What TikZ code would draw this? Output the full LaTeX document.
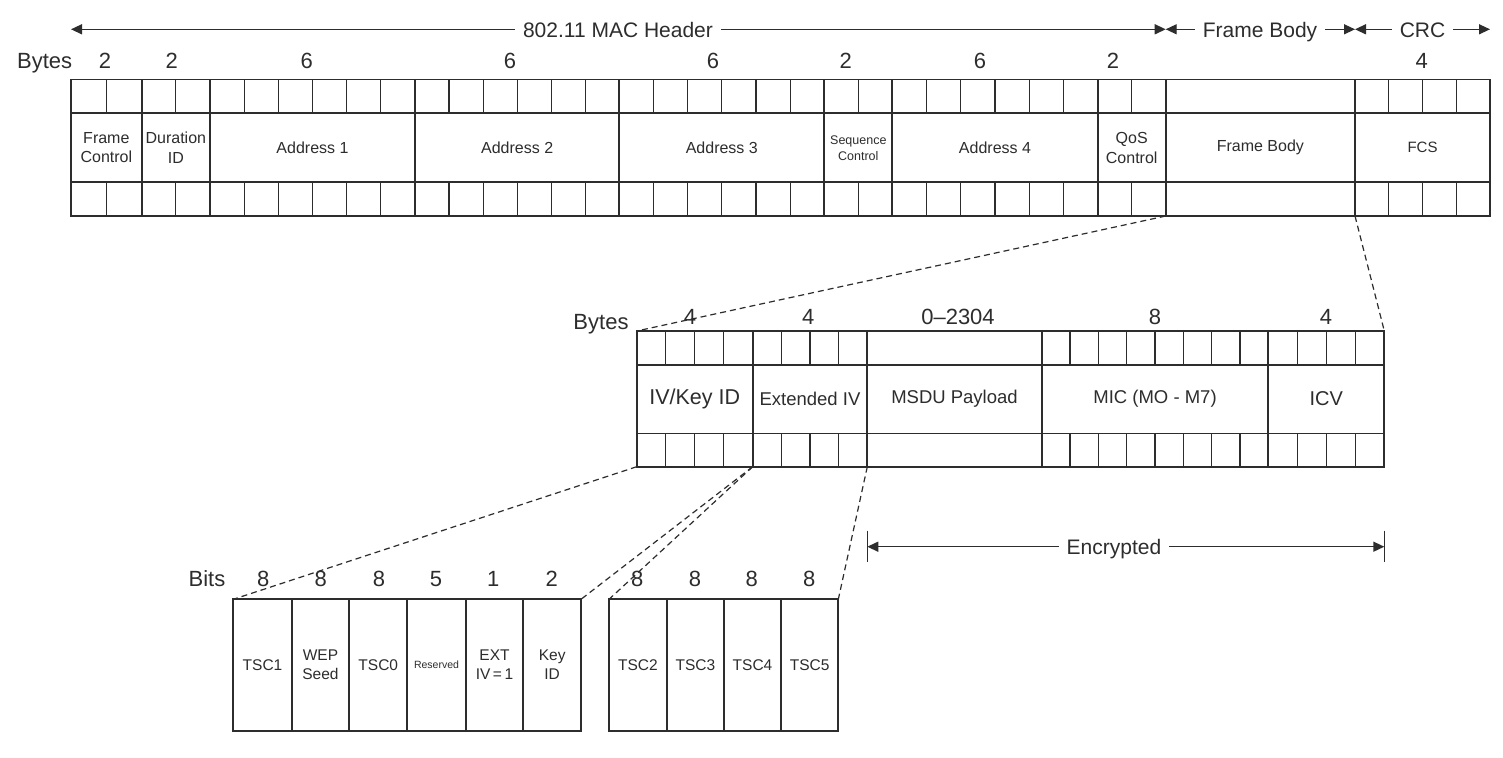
\documentclass[tikz,border=0pt]{standalone}
\usepackage{fontspec}
\setmainfont{Liberation Sans}
\usetikzlibrary{arrows.meta}
\definecolor{ink}{RGB}{45,45,45}
\def\yA{0}\def\yB{0}\def\yC{0}\def\yD{0}
\newcommand{\bfld}[7]{%
  \node[fld, minimum width={(#3-#2)*1pt}, minimum height={(\yD-\yA)*1pt}, font=\fontsize{#6}{#7}\selectfont] (#1) at (#2,\yA) {#5};
  \draw[rowl] (#2,\yB) -- (#3,\yB) (#2,\yC) -- (#3,\yC);
  \ifnum#4>1\relax
    \pgfmathtruncatemacro\nmo{#4-1}%
    \foreach \k in {1,...,\nmo}{%
      \pgfmathsetmacro\xx{#2+\k*(#3-#2)/#4}%
      \draw[cell] (\xx,\yA) -- (\xx,\yB) (\xx,\yC) -- (\xx,\yD);
    }%
  \fi
}
\newcommand{\sfld}[6]{%
  \node[fld, minimum width={(#3-#2)*1pt}, minimum height={(\yD-\yA)*1pt}, font=\fontsize{#5}{#6}\selectfont] (#1) at (#2,\yA) {#4};
}
\begin{document}
\begin{tikzpicture}[x=1pt,y=-1pt,
  fld/.style={draw=ink, line width=1.9pt, inner sep=0pt, outer sep=0pt, anchor=north west, align=center, text=ink},
  rowl/.style={draw=ink, line width=1.6pt},
  cell/.style={draw=ink, line width=1.2pt},
  num/.style={text=ink, font=\fontsize{22}{26}\selectfont, inner sep=0pt, anchor=base},
  alab/.style={text=ink, font=\fontsize{21}{25}\selectfont, inner xsep=8pt, inner ysep=0pt, text height=15.5pt, text depth=0pt},
  arr/.style={draw=ink, line width=1.4pt, -{Triangle[length=11pt,width=10pt]}},
  conn/.style={draw=ink, line width=1.2pt, dash pattern=on 6pt off 4pt},
  tick/.style={draw=ink, line width=1.4pt}
]
\fill[white] (0,0) rectangle (1503,757);
\useasboundingbox (0,0) rectangle (1503,757);

% ---------- top header arrows ----------
\node[alab] (mach) at (618,29.3) {802.11 MAC Header};
\coordinate (hL) at (71,29.3);
\coordinate (hR) at (1165.7,29.3);
\draw[arr] (mach.west) -- (hL);
\draw[arr] (mach.east) -- (hR);
\node[alab] (fbl) at (1260,29.3) {Frame Body};
\coordinate (fbR) at (1355,29.3);
\draw[arr] (fbl.west) -- (hR);
\draw[arr] (fbl.east) -- (fbR);
\node[alab] (crcl) at (1422.5,29.3) {CRC};
\coordinate (crcR) at (1490,29.3);
\draw[arr] (crcl.west) -- (fbR);
\draw[arr] (crcl.east) -- (crcR);

% ---------- top byte counts ----------
\node[num] (tbytes) at (44.7,68.3) {Bytes};
\node[num] (t1) at (105,68.3) {2};
\node[num] (t2) at (171.7,68.3) {2};
\node[num] (t3) at (306.7,68.3) {6};
\node[num] (t4) at (510,68.3) {6};
\node[num] (t5) at (713,68.3) {6};
\node[num] (t6) at (845.7,68.3) {2};
\node[num] (t7) at (980,68.3) {6};
\node[num] (t8) at (1113,68.3) {2};
\node[num] (t9) at (1421.7,68.3) {4};

% ---------- top table ----------
\def\yA{79.5}\def\yB{113}\def\yC{182}\def\yD{216}
\bfld{fc}{71}{141.7}{2}{Frame\\Control}{16}{19.5}
\bfld{dur}{141.7}{210}{2}{Duration\\ID}{16}{19.5}
\bfld{aa}{210}{415}{6}{Address 1}{16}{19.5}
\bfld{ab}{415}{619.3}{6}{Address 2}{16}{19.5}
\bfld{ac}{619.3}{824.3}{6}{Address 3}{16}{19.5}
\bfld{sc}{824.3}{892.3}{2}{Sequence\\Control}{12.5}{16}
\bfld{ad}{892.3}{1097.7}{6}{Address 4}{16}{19.5}
\bfld{qos}{1097.7}{1165.7}{2}{QoS\\Control}{16}{19.5}
\bfld{fb}{1165.7}{1355}{0}{Frame Body}{16}{19.5}
\bfld{fcs}{1355}{1490}{4}{FCS}{15}{18}

% ---------- middle byte counts ----------
\node[num] (mbytes) at (601,329.5) {Bytes};
\node[num] (m1) at (690,324) {4};
\node[num] (m2) at (808.3,324) {4};
\node[num] (m3) at (958,324) {0--2304};
\node[num] (m4) at (1155,324) {8};
\node[num] (m5) at (1326,324) {4};

% ---------- middle table ----------
\def\yA{331}\def\yB{365}\def\yC{433.3}\def\yD{466.7}
\bfld{iv}{636.7}{752.7}{4}{IV/Key ID}{21.5}{25}
\bfld{xiv}{752.7}{867.3}{4}{Extended IV}{18.5}{22}
\bfld{msdu}{867.3}{1041.7}{0}{MSDU Payload}{18.5}{22}
\bfld{mic}{1041.7}{1268.3}{8}{MIC (MO - M7)}{18.5}{22}
\bfld{icv}{1268.3}{1384.3}{4}{ICV}{20}{23}

% ---------- encrypted ----------
\node[alab] (enc) at (1114,546.7) {Encrypted};
\coordinate (encL) at (867.3,546.7);
\coordinate (encR) at (1384.3,546.7);
\coordinate (encLa) at (867.3,530.7);
\coordinate (encLb) at (867.3,562.3);
\coordinate (encRa) at (1384.3,530.7);
\coordinate (encRb) at (1384.3,562.3);
\draw[tick] (encLa) -- (encLb);
\draw[tick] (encRa) -- (encRb);
\draw[arr] (enc.west) -- (encL);
\draw[arr] (enc.east) -- (encR);

% ---------- bit counts ----------
\node[num] (bbits) at (207,586) {Bits};
\node[num] (b1) at (263.3,586) {8};
\node[num] (b2) at (320.7,586) {8};
\node[num] (b3) at (379,586) {8};
\node[num] (b4) at (436,586) {5};
\node[num] (b5) at (493.3,586) {1};
\node[num] (b6) at (551.7,586) {2};
\node[num] (b7) at (637.3,586) {8};
\node[num] (b8) at (695,586) {8};
\node[num] (b9) at (751.7,586) {8};
\node[num] (b10) at (809.3,586) {8};

% ---------- bottom boxes ----------
\def\yA{599.3}\def\yD{730.7}
\sfld{tsca}{233.3}{291.7}{TSC1}{15.5}{19}
\sfld{wep}{291.7}{349.3}{WEP\\Seed}{15.5}{19}
\sfld{tscz}{349.3}{407.3}{TSC0}{15.5}{19}
\sfld{res}{407.3}{465.7}{Reserved}{10.5}{13}
\sfld{ext}{465.7}{523.3}{EXT\\IV\,=\,1}{15.5}{19}
\sfld{kid}{523.3}{581}{Key\\ID}{15.5}{19}
\sfld{tscb}{609}{666.7}{TSC2}{15.5}{19}
\sfld{tscc}{666.7}{724}{TSC3}{15.5}{19}
\sfld{tscd}{724}{781}{TSC4}{15.5}{19}
\sfld{tsce}{781}{838.3}{TSC5}{15.5}{19}

% ---------- dashed connectors ----------
\draw[conn] (qos.south east) -- (iv.north west);
\draw[conn] (fb.south east) -- (icv.north east);
\draw[conn] (iv.south west) -- (tsca.north west);
\draw[conn] (iv.south east) -- (kid.north east);
\draw[conn] (iv.south east) -- (tscb.north west);
\draw[conn] (xiv.south east) -- (tsce.north east);
\end{tikzpicture}
\end{document}
